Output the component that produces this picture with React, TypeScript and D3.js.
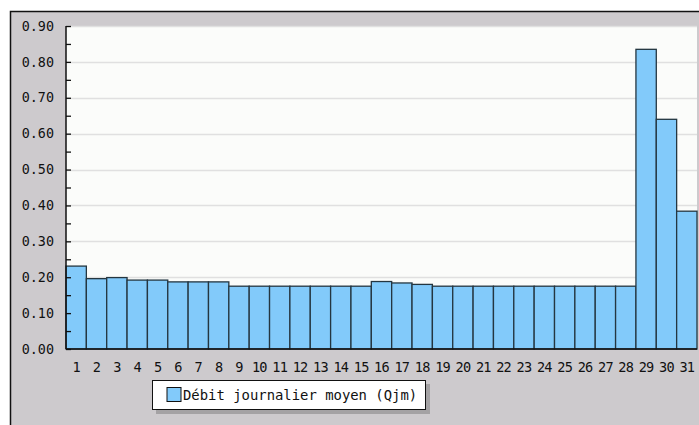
import * as d3 from 'd3';
import { useEffect, useRef } from 'react';

const days = d3.range(1, 32).map(String);
const debit = [
  0.231, 0.196, 0.199, 0.192, 0.192, 0.187, 0.187, 0.187, 0.175, 0.175,
  0.175, 0.175, 0.175, 0.175, 0.175, 0.188, 0.184, 0.18, 0.175, 0.175,
  0.175, 0.175, 0.175, 0.175, 0.175, 0.175, 0.175, 0.175, 0.835, 0.64,
  0.384,
];
const yTicks = [0, 0.1, 0.2, 0.3, 0.4, 0.5, 0.6, 0.7, 0.8, 0.9];
const legendLabel = 'Débit journalier moyen (Qjm)';

export default function App() {
  const ref = useRef<SVGSVGElement>(null);

  const width = 699;
  const height = 425;
  const margin = { top: 26, right: 2, bottom: 76, left: 66 };
  const font = '"DejaVu Sans Mono", monospace';

  useEffect(() => {
    const svg = d3.select(ref.current);
    svg.selectAll('*').remove();

    const x = d3
      .scaleBand(days, [margin.left, width - margin.right])
      .padding(0);
    const y = d3.scaleLinear([0, 0.9], [height - margin.bottom, margin.top]);

    // outer frame
    svg
      .append('rect')
      .attr('x', 10.5)
      .attr('y', 11.5)
      .attr('width', width)
      .attr('height', height)
      .attr('fill', '#cdcacd')
      .attr('stroke', '#111')
      .attr('stroke-width', 1.5);

    // plot background
    svg
      .append('rect')
      .attr('x', margin.left)
      .attr('y', margin.top)
      .attr('width', width - margin.right - margin.left)
      .attr('height', height - margin.bottom - margin.top)
      .attr('fill', '#fbfcfa');

    // grid
    svg
      .append('g')
      .selectAll('line')
      .data(yTicks.slice(1))
      .join('line')
      .attr('x1', margin.left)
      .attr('x2', width - margin.right)
      .attr('y1', (d) => Math.round(y(d)) + 0.5)
      .attr('y2', (d) => Math.round(y(d)) + 0.5)
      .attr('stroke', '#e0e0e0')
      .attr('stroke-width', 1.5);

    // bars
    svg
      .append('g')
      .selectAll('rect')
      .data(debit)
      .join('rect')
      .attr('x', (_, i) => x(days[i]))
      .attr('y', (d) => y(d))
      .attr('width', x.bandwidth())
      .attr('height', (d) => y(0) - y(d))
      .attr('fill', '#82cafa')
      .attr('stroke', '#243640')
      .attr('stroke-width', 1.3);

    // y axis
    const yAxis = d3
      .axisRight(y)
      .tickValues(d3.range(0, 0.91, 0.05))
      .tickSize(5)
      .tickFormat(() => '');
    svg
      .append('g')
      .attr('transform', `translate(${margin.left}, 0)`)
      .call(yAxis)
      .call((g) => g.select('.domain').remove())
      .call((g) => g.selectAll('.tick line').attr('stroke', '#111').attr('stroke-width', 1.3));

    svg
      .append('g')
      .selectAll('text')
      .data(yTicks)
      .join('text')
      .attr('x', 54)
      .attr('y', (d) => y(d))
      .attr('dy', '0.35em')
      .attr('text-anchor', 'end')
      .attr('font-family', font)
      .attr('font-size', 13.4)
      .attr('fill', '#111')
      .text((d) => d.toFixed(2));

    svg
      .append('line')
      .attr('x1', margin.left)
      .attr('x2', margin.left)
      .attr('y1', margin.top)
      .attr('y2', y(0))
      .attr('stroke', '#111')
      .attr('stroke-width', 1.5);

    // x axis
    svg
      .append('line')
      .attr('x1', margin.left)
      .attr('x2', width - margin.right)
      .attr('y1', y(0))
      .attr('y2', y(0))
      .attr('stroke', '#111')
      .attr('stroke-width', 1.5);

    svg
      .append('g')
      .selectAll('text')
      .data(days)
      .join('text')
      .attr('x', (d) => x(d) + x.bandwidth() / 2)
      .attr('y', y(0) + 23)
      .attr('text-anchor', 'middle')
      .attr('font-family', font)
      .attr('font-size', 13.6)
      .attr('letter-spacing', -0.8)
      .attr('fill', '#111')
      .text((d) => d);

    // legend
    const legend = svg.append('g').attr('transform', 'translate(152, 380)');
    legend
      .append('rect')
      .attr('x', 4)
      .attr('y', 4)
      .attr('width', 274)
      .attr('height', 30)
      .attr('fill', '#a4a2a4');
    legend
      .append('rect')
      .attr('x', 0.5)
      .attr('y', 0.5)
      .attr('width', 273)
      .attr('height', 29)
      .attr('fill', '#fff')
      .attr('stroke', '#111')
      .attr('stroke-width', 1);
    legend
      .append('rect')
      .attr('x', 15)
      .attr('y', 7.5)
      .attr('width', 14)
      .attr('height', 14)
      .attr('fill', '#82cafa')
      .attr('stroke', '#111');
    legend
      .append('text')
      .attr('x', 31)
      .attr('y', 20)
      .attr('font-family', font)
      .attr('font-size', 13.9)
      .attr('fill', '#111')
      .text(legendLabel);
  }, []);

  return (
    <svg
      ref={ref}
      width={width}
      height={height}
      style={{ position: 'absolute', left: 0, top: 0, background: '#fff' }}
    ></svg>
  );
}
